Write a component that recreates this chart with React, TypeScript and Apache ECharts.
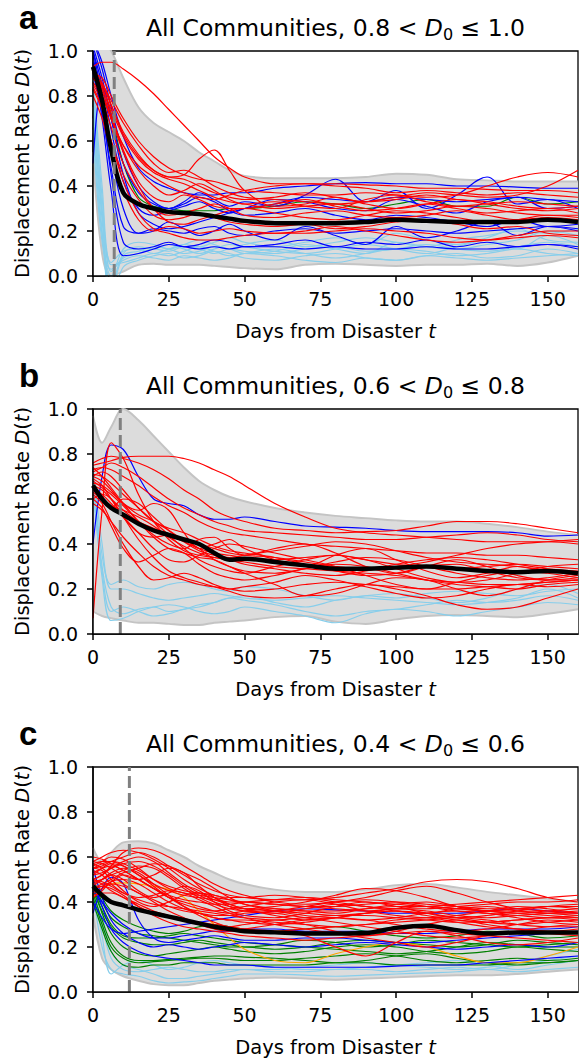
import React, { useEffect, useRef } from "react";
import * as echarts from "echarts";

// sample days shared by every curve
const T = [0, 3, 6, 10, 15, 20, 25, 30, 35, 40, 45, 50, 60, 70, 80, 90, 100, 110, 120, 130, 140, 150, 160];
const xTicks = [0, 25, 50, 75, 100, 125, 150];
const titles = ["0.8 < ", "0.6 < ", "0.4 < "];
const titleEnds = [" ≤ 1.0", " ≤ 0.8", " ≤ 0.6"];
const panelLetters = ["a", "b", "c"];
const dashDays = [7, 9, 12];

// ---------- panel a ----------
const meanA = [0.93,0.78,0.56,0.37,0.32,0.30,0.285,0.28,0.275,0.265,0.255,0.245,0.235,0.235,0.235,0.24,0.25,0.245,0.24,0.24,0.24,0.25,0.24];
const bandUpA = [1.1,1.05,1.0,0.88,0.75,0.68,0.64,0.6,0.55,0.51,0.47,0.445,0.435,0.435,0.435,0.44,0.455,0.45,0.43,0.425,0.42,0.42,0.42];
const bandLoA = [0.55,0.1,0,0.02,0.05,0.055,0.05,0.05,0.05,0.045,0.04,0.035,0.03,0.05,0.055,0.05,0.045,0.05,0.05,0.055,0.045,0.06,0.09];
const redA = [
  [0.93,0.95,0.95,0.92,0.87,0.81,0.74,0.67,0.6,0.53,0.48,0.44,0.41,0.41,0.41,0.405,0.40,0.39,0.39,0.385,0.38,0.38,0.37],
  [0.92,0.86,0.76,0.63,0.53,0.47,0.44,0.45,0.52,0.56,0.47,0.38,0.31,0.32,0.35,0.32,0.3,0.32,0.34,0.32,0.3,0.29,0.3],
  [0.9,0.88,0.8,0.7,0.6,0.53,0.48,0.45,0.43,0.42,0.4,0.38,0.37,0.36,0.36,0.37,0.36,0.35,0.36,0.4,0.44,0.46,0.44],
  [0.88,0.85,0.78,0.68,0.58,0.5,0.46,0.47,0.44,0.4,0.37,0.35,0.34,0.33,0.32,0.33,0.35,0.37,0.36,0.35,0.36,0.4,0.47],
  [0.86,0.8,0.7,0.58,0.47,0.4,0.36,0.38,0.41,0.38,0.34,0.32,0.33,0.31,0.3,0.34,0.36,0.33,0.31,0.32,0.33,0.32,0.31],
  [0.9,0.84,0.72,0.56,0.42,0.35,0.33,0.36,0.34,0.31,0.3,0.3,0.32,0.34,0.31,0.29,0.3,0.32,0.3,0.28,0.29,0.3,0.28],
  [0.85,0.78,0.66,0.5,0.38,0.3,0.27,0.28,0.3,0.32,0.3,0.27,0.26,0.28,0.29,0.27,0.26,0.27,0.29,0.27,0.25,0.26,0.25],
  [0.88,0.82,0.7,0.55,0.4,0.3,0.24,0.23,0.25,0.27,0.29,0.3,0.28,0.26,0.25,0.27,0.29,0.28,0.26,0.24,0.25,0.27,0.26],
  [0.84,0.75,0.6,0.42,0.28,0.21,0.19,0.17,0.16,0.16,0.17,0.18,0.19,0.19,0.2,0.21,0.2,0.19,0.17,0.16,0.17,0.18,0.17],
  [0.8,0.7,0.55,0.38,0.25,0.2,0.22,0.21,0.19,0.2,0.21,0.2,0.19,0.2,0.22,0.2,0.18,0.16,0.15,0.16,0.18,0.2,0.2],
  [0.86,0.8,0.7,0.58,0.49,0.44,0.4,0.37,0.35,0.34,0.36,0.38,0.4,0.41,0.4,0.39,0.37,0.38,0.37,0.36,0.37,0.36,0.35],
  [0.88,0.83,0.74,0.62,0.52,0.46,0.43,0.41,0.38,0.35,0.33,0.32,0.3,0.31,0.32,0.3,0.28,0.29,0.31,0.3,0.28,0.27,0.27],
  [0.9,0.85,0.76,0.64,0.54,0.47,0.44,0.43,0.4,0.37,0.35,0.34,0.35,0.37,0.35,0.33,0.34,0.36,0.34,0.33,0.31,0.3,0.31],
  [0.83,0.74,0.6,0.45,0.34,0.27,0.25,0.26,0.28,0.26,0.24,0.23,0.22,0.23,0.21,0.22,0.24,0.25,0.23,0.21,0.22,0.19,0.18],
];
const blueA = [
  [1.05,0.95,0.8,0.62,0.48,0.42,0.39,0.37,0.36,0.36,0.37,0.37,0.39,0.4,0.41,0.415,0.41,0.41,0.4,0.4,0.395,0.39,0.39],
  [1.05,0.92,0.75,0.55,0.4,0.33,0.3,0.33,0.37,0.34,0.31,0.33,0.31,0.36,0.43,0.33,0.38,0.3,0.36,0.44,0.32,0.34,0.3],
  [1.0,0.85,0.65,0.42,0.3,0.27,0.29,0.31,0.33,0.3,0.28,0.3,0.34,0.33,0.3,0.29,0.34,0.31,0.28,0.33,0.35,0.3,0.31],
  [1.0,0.8,0.55,0.3,0.19,0.2,0.24,0.21,0.18,0.2,0.23,0.2,0.16,0.22,0.18,0.14,0.22,0.17,0.2,0.24,0.18,0.22,0.2],
  [0.98,0.75,0.45,0.15,0.12,0.13,0.15,0.13,0.14,0.16,0.15,0.13,0.14,0.16,0.13,0.15,0.14,0.16,0.13,0.15,0.13,0.14,0.13],
  [0.95,0.7,0.38,0.09,0.1,0.12,0.14,0.13,0.12,0.13,0.12,0.13,0.13,0.12,0.13,0.12,0.12,0.13,0.12,0.12,0.13,0.14,0.12],
  [1.02,0.88,0.7,0.5,0.37,0.32,0.3,0.32,0.35,0.33,0.29,0.27,0.28,0.3,0.27,0.25,0.27,0.26,0.24,0.22,0.25,0.22,0.23],
  [0.9,0.72,0.48,0.22,0.19,0.21,0.2,0.19,0.21,0.22,0.19,0.18,0.2,0.21,0.19,0.2,0.21,0.2,0.19,0.2,0.21,0.22,0.21],
  [0.5,0.85,0.7,0.45,0.28,0.23,0.21,0.22,0.24,0.26,0.28,0.3,0.32,0.35,0.34,0.33,0.35,0.34,0.33,0.34,0.35,0.34,0.33],
];
const skyA = [
  [0.85,0.35,0.02,0.08,0.1,0.12,0.11,0.13,0.12,0.1,0.12,0.11,0.1,0.12,0.13,0.11,0.12,0.14,0.12,0.11,0.13,0.15,0.13],
  [0.8,0.25,-0.05,0.1,0.13,0.12,0.14,0.12,0.1,0.12,0.14,0.13,0.11,0.1,0.12,0.14,0.12,0.1,0.13,0.16,0.12,0.18,0.14],
  [0.9,0.4,0.05,0.06,0.08,0.1,0.09,0.11,0.13,0.11,0.09,0.1,0.12,0.1,0.08,0.1,0.12,0.11,0.09,0.1,0.12,0.1,0.09],
  [0.75,0.2,-0.1,0.04,0.07,0.09,0.1,0.08,0.09,0.11,0.1,0.08,0.07,0.09,0.1,0.08,0.07,0.09,0.1,0.08,0.09,0.12,0.1],
  [0.7,0.18,0.0,0.12,0.15,0.14,0.12,0.14,0.16,0.14,0.12,0.14,0.16,0.13,0.15,0.17,0.15,0.13,0.16,0.18,0.2,0.19,0.21],
  [0.88,0.3,-0.08,0.09,0.11,0.13,0.12,0.1,0.11,0.13,0.12,0.1,0.11,0.14,0.12,0.1,0.15,0.13,0.12,0.14,0.16,0.2,0.18],
  [0.65,0.15,0.03,0.07,0.09,0.08,0.07,0.09,0.08,0.07,0.08,0.1,0.09,0.07,0.06,0.08,0.07,0.09,0.08,0.07,0.08,0.09,0.1],
  [0.82,0.28,0.06,0.11,0.12,0.1,0.12,0.14,0.13,0.15,0.17,0.15,0.13,0.15,0.17,0.14,0.19,0.16,0.14,0.17,0.21,0.16,0.15],
];
const greenA = [
  [0.92,0.85,0.72,0.5,0.35,0.31,0.3,0.29,0.29,0.29,0.3,0.3,0.31,0.33,0.32,0.3,0.32,0.34,0.31,0.31,0.35,0.32,0.33],
];

// ---------- panel b ----------
const meanB = [0.66,0.6,0.56,0.53,0.49,0.46,0.44,0.42,0.4,0.36,0.33,0.335,0.32,0.305,0.29,0.29,0.295,0.3,0.29,0.28,0.275,0.28,0.27];
const bandUpB = [0.97,0.85,0.92,1.0,0.95,0.88,0.81,0.74,0.68,0.64,0.61,0.59,0.56,0.54,0.525,0.515,0.505,0.5,0.5,0.49,0.475,0.455,0.44];
const bandLoB = [0.1,0.08,0.07,0.06,0.05,0.05,0.045,0.04,0.04,0.05,0.055,0.06,0.075,0.08,0.055,0.045,0.065,0.08,0.085,0.08,0.075,0.09,0.11];
const redB = [
  [0.75,0.76,0.77,0.785,0.79,0.79,0.79,0.78,0.76,0.73,0.7,0.66,0.58,0.52,0.47,0.45,0.44,0.43,0.42,0.41,0.41,0.41,0.4],
  [0.07,0.55,0.85,0.78,0.62,0.5,0.42,0.37,0.35,0.34,0.33,0.32,0.3,0.29,0.28,0.27,0.26,0.24,0.23,0.22,0.22,0.23,0.24],
  [0.76,0.78,0.79,0.78,0.76,0.73,0.69,0.64,0.6,0.55,0.52,0.5,0.47,0.46,0.45,0.455,0.46,0.48,0.5,0.5,0.49,0.47,0.45],
  [0.72,0.74,0.76,0.74,0.7,0.65,0.6,0.56,0.53,0.5,0.48,0.46,0.45,0.44,0.43,0.42,0.42,0.43,0.44,0.45,0.44,0.42,0.41],
  [0.7,0.68,0.64,0.58,0.55,0.58,0.55,0.45,0.38,0.4,0.42,0.38,0.33,0.3,0.35,0.38,0.33,0.28,0.25,0.27,0.3,0.28,0.26],
  [0.68,0.65,0.62,0.57,0.5,0.44,0.4,0.38,0.42,0.43,0.38,0.35,0.38,0.4,0.36,0.3,0.27,0.3,0.33,0.3,0.26,0.24,0.25],
  [0.65,0.62,0.58,0.52,0.45,0.38,0.33,0.32,0.35,0.38,0.4,0.39,0.36,0.33,0.3,0.26,0.22,0.2,0.23,0.26,0.28,0.27,0.25],
  [0.74,0.7,0.65,0.58,0.5,0.43,0.38,0.36,0.34,0.33,0.3,0.27,0.22,0.17,0.18,0.22,0.25,0.24,0.2,0.17,0.2,0.24,0.26],
  [0.6,0.62,0.6,0.52,0.42,0.34,0.28,0.25,0.23,0.21,0.19,0.17,0.16,0.17,0.2,0.22,0.2,0.17,0.13,0.11,0.12,0.16,0.2],
  [0.62,0.58,0.5,0.4,0.3,0.24,0.25,0.27,0.25,0.22,0.2,0.21,0.23,0.26,0.24,0.21,0.18,0.16,0.17,0.2,0.22,0.21,0.22],
  [0.73,0.74,0.73,0.7,0.66,0.61,0.57,0.54,0.5,0.47,0.45,0.44,0.42,0.4,0.39,0.38,0.37,0.36,0.36,0.35,0.35,0.34,0.33],
  [0.66,0.64,0.6,0.55,0.5,0.47,0.44,0.41,0.38,0.36,0.35,0.34,0.33,0.34,0.35,0.33,0.31,0.3,0.29,0.3,0.31,0.3,0.29],
  [0.7,0.72,0.7,0.64,0.56,0.5,0.47,0.45,0.42,0.39,0.37,0.36,0.34,0.31,0.28,0.26,0.27,0.3,0.31,0.28,0.25,0.24,0.24],
  [0.64,0.6,0.56,0.6,0.58,0.52,0.46,0.41,0.37,0.35,0.34,0.35,0.37,0.39,0.41,0.4,0.37,0.34,0.32,0.31,0.3,0.28,0.27],
  [0.69,0.66,0.6,0.52,0.45,0.43,0.44,0.42,0.38,0.33,0.3,0.28,0.27,0.29,0.32,0.34,0.33,0.3,0.27,0.25,0.24,0.25,0.27],
  [0.58,0.55,0.5,0.43,0.36,0.3,0.26,0.24,0.22,0.21,0.2,0.19,0.2,0.22,0.23,0.22,0.21,0.2,0.2,0.21,0.22,0.23,0.24],
  [0.71,0.7,0.67,0.62,0.56,0.5,0.44,0.38,0.33,0.3,0.28,0.27,0.3,0.33,0.35,0.33,0.29,0.25,0.23,0.24,0.27,0.3,0.31],
  [0.63,0.6,0.57,0.55,0.52,0.48,0.43,0.39,0.36,0.34,0.33,0.31,0.29,0.27,0.26,0.28,0.31,0.33,0.34,0.33,0.31,0.29,0.28],
  [0.67,0.66,0.63,0.58,0.53,0.5,0.46,0.42,0.4,0.38,0.36,0.35,0.34,0.32,0.3,0.29,0.3,0.32,0.35,0.38,0.4,0.41,0.42],
  [0.6,0.56,0.48,0.38,0.32,0.35,0.38,0.36,0.31,0.27,0.25,0.24,0.26,0.29,0.31,0.3,0.27,0.24,0.22,0.21,0.2,0.22,0.23],
];
const blueB = [
  [0.4,0.7,0.84,0.82,0.7,0.6,0.58,0.57,0.53,0.51,0.51,0.52,0.5,0.48,0.475,0.47,0.46,0.455,0.455,0.455,0.45,0.435,0.44],
];
const skyB = [
  [0.72,0.35,0.22,0.24,0.21,0.2,0.22,0.23,0.22,0.2,0.19,0.21,0.2,0.17,0.15,0.17,0.16,0.18,0.19,0.18,0.17,0.19,0.2],
  [0.7,0.3,0.12,0.09,0.11,0.12,0.1,0.11,0.13,0.14,0.16,0.17,0.14,0.12,0.15,0.17,0.18,0.16,0.14,0.16,0.2,0.22,0.18],
  [0.68,0.25,0.06,0.07,0.1,0.12,0.13,0.12,0.1,0.09,0.1,0.12,0.1,0.08,0.05,0.09,0.11,0.1,0.08,0.1,0.12,0.14,0.13],
  [0.65,0.28,0.1,0.12,0.1,0.08,0.09,0.11,0.12,0.14,0.16,0.15,0.13,0.1,0.08,0.1,0.11,0.13,0.15,0.14,0.15,0.17,0.15],
  [0.75,0.4,0.2,0.2,0.18,0.16,0.15,0.16,0.17,0.18,0.17,0.16,0.15,0.16,0.17,0.16,0.15,0.14,0.13,0.14,0.16,0.2,0.16],
];

// ---------- panel c ----------
const meanC = [0.47,0.43,0.4,0.385,0.365,0.35,0.335,0.32,0.305,0.29,0.28,0.27,0.265,0.26,0.26,0.262,0.285,0.295,0.275,0.26,0.265,0.265,0.265];
const bandUpC = [0.64,0.58,0.62,0.665,0.67,0.66,0.63,0.6,0.56,0.53,0.5,0.48,0.455,0.445,0.445,0.455,0.475,0.48,0.465,0.445,0.43,0.415,0.4];
const bandLoC = [0.35,0.15,0.1,0.07,0.05,0.035,0.03,0.03,0.04,0.05,0.055,0.06,0.065,0.06,0.055,0.06,0.065,0.07,0.075,0.075,0.08,0.09,0.1];
const redC = [
  [0.55,0.56,0.58,0.6,0.62,0.6,0.56,0.52,0.48,0.45,0.43,0.42,0.41,0.41,0.42,0.44,0.46,0.49,0.5,0.49,0.46,0.42,0.4],
  [0.5,0.52,0.56,0.62,0.64,0.63,0.6,0.56,0.52,0.48,0.45,0.43,0.4,0.39,0.4,0.42,0.45,0.47,0.44,0.4,0.37,0.36,0.35],
  [0.58,0.57,0.55,0.52,0.5,0.52,0.55,0.53,0.47,0.42,0.38,0.36,0.35,0.37,0.39,0.38,0.36,0.35,0.37,0.38,0.36,0.35,0.34],
  [0.56,0.58,0.6,0.59,0.55,0.5,0.46,0.44,0.43,0.42,0.41,0.4,0.39,0.38,0.37,0.36,0.37,0.38,0.37,0.36,0.35,0.34,0.33],
  [0.52,0.55,0.57,0.56,0.52,0.47,0.42,0.39,0.37,0.36,0.37,0.38,0.4,0.41,0.39,0.36,0.34,0.33,0.34,0.36,0.38,0.37,0.35],
  [0.48,0.5,0.52,0.5,0.45,0.42,0.44,0.47,0.45,0.4,0.36,0.34,0.33,0.35,0.38,0.4,0.38,0.35,0.33,0.34,0.36,0.38,0.39],
  [0.55,0.54,0.5,0.45,0.4,0.38,0.4,0.43,0.44,0.42,0.39,0.37,0.34,0.32,0.33,0.35,0.37,0.36,0.34,0.33,0.34,0.35,0.36],
  [0.5,0.52,0.55,0.58,0.6,0.58,0.53,0.48,0.44,0.41,0.39,0.37,0.36,0.35,0.34,0.35,0.36,0.34,0.32,0.31,0.32,0.33,0.32],
  [0.46,0.48,0.5,0.53,0.55,0.57,0.56,0.53,0.5,0.46,0.42,0.39,0.36,0.34,0.33,0.32,0.33,0.35,0.36,0.35,0.33,0.31,0.3],
  [0.57,0.55,0.52,0.48,0.44,0.41,0.38,0.36,0.35,0.34,0.34,0.35,0.36,0.38,0.4,0.41,0.4,0.38,0.36,0.35,0.34,0.33,0.33],
  [0.44,0.46,0.48,0.47,0.44,0.4,0.36,0.33,0.3,0.28,0.27,0.28,0.3,0.32,0.33,0.32,0.3,0.28,0.27,0.28,0.3,0.32,0.31],
  [0.53,0.55,0.56,0.54,0.5,0.46,0.42,0.4,0.38,0.36,0.35,0.36,0.37,0.36,0.35,0.37,0.39,0.4,0.38,0.36,0.35,0.36,0.37],
  [0.5,0.49,0.47,0.44,0.42,0.43,0.45,0.44,0.41,0.38,0.35,0.33,0.3,0.28,0.26,0.24,0.22,0.2,0.22,0.25,0.27,0.26,0.25],
  [0.58,0.6,0.62,0.63,0.62,0.59,0.55,0.5,0.46,0.43,0.42,0.42,0.43,0.42,0.4,0.38,0.37,0.37,0.38,0.39,0.4,0.4,0.41],
  [0.47,0.5,0.53,0.55,0.53,0.48,0.43,0.38,0.34,0.31,0.29,0.3,0.32,0.3,0.27,0.25,0.27,0.3,0.32,0.3,0.28,0.27,0.28],
  [0.52,0.53,0.55,0.57,0.58,0.56,0.52,0.47,0.43,0.4,0.38,0.37,0.38,0.4,0.43,0.46,0.45,0.42,0.38,0.36,0.37,0.38,0.37],
  [0.45,0.47,0.46,0.43,0.38,0.34,0.31,0.29,0.28,0.27,0.26,0.25,0.24,0.23,0.24,0.25,0.26,0.27,0.26,0.25,0.24,0.23,0.22],
  [0.55,0.57,0.58,0.57,0.54,0.5,0.47,0.45,0.44,0.43,0.41,0.39,0.37,0.36,0.36,0.37,0.38,0.38,0.37,0.36,0.36,0.35,0.35],
  [0.42,0.45,0.49,0.5,0.48,0.44,0.4,0.37,0.35,0.33,0.32,0.32,0.31,0.3,0.29,0.3,0.31,0.32,0.33,0.32,0.3,0.29,0.29],
  [0.49,0.5,0.52,0.54,0.56,0.55,0.51,0.46,0.42,0.39,0.37,0.36,0.35,0.33,0.31,0.29,0.27,0.25,0.24,0.25,0.27,0.29,0.3],
  [0.54,0.52,0.48,0.44,0.41,0.39,0.38,0.37,0.36,0.35,0.34,0.33,0.32,0.33,0.34,0.34,0.33,0.32,0.31,0.31,0.32,0.33,0.34],
  [0.43,0.44,0.44,0.42,0.39,0.36,0.34,0.32,0.3,0.29,0.28,0.27,0.27,0.28,0.29,0.3,0.32,0.33,0.31,0.29,0.28,0.27,0.26],
  [0.57,0.58,0.58,0.56,0.52,0.48,0.45,0.43,0.42,0.41,0.4,0.4,0.39,0.38,0.38,0.39,0.4,0.39,0.38,0.37,0.37,0.38,0.38],
  [0.5,0.48,0.45,0.42,0.38,0.35,0.33,0.32,0.31,0.3,0.29,0.28,0.27,0.25,0.2,0.16,0.22,0.27,0.25,0.22,0.21,0.22,0.24],
  [0.6,0.59,0.57,0.54,0.5,0.46,0.43,0.41,0.4,0.39,0.39,0.4,0.41,0.42,0.41,0.4,0.39,0.38,0.39,0.4,0.41,0.42,0.43],
  [0.46,0.47,0.49,0.52,0.5,0.46,0.42,0.38,0.35,0.33,0.32,0.31,0.3,0.31,0.33,0.35,0.36,0.35,0.33,0.31,0.3,0.31,0.32],
];
const blueC = [
  [0.4,0.33,0.28,0.26,0.27,0.28,0.29,0.3,0.31,0.32,0.33,0.34,0.36,0.37,0.365,0.36,0.35,0.35,0.35,0.36,0.37,0.36,0.35],
  [0.35,0.46,0.51,0.48,0.32,0.24,0.22,0.23,0.24,0.25,0.24,0.23,0.23,0.24,0.24,0.23,0.22,0.22,0.23,0.24,0.25,0.26,0.27],
  [0.55,0.42,0.32,0.26,0.22,0.2,0.21,0.2,0.19,0.2,0.21,0.22,0.21,0.2,0.21,0.22,0.21,0.2,0.19,0.2,0.21,0.2,0.22],
  [0.5,0.38,0.28,0.22,0.18,0.16,0.15,0.14,0.13,0.12,0.12,0.12,0.11,0.11,0.11,0.11,0.115,0.12,0.12,0.13,0.14,0.15,0.16],
  [0.45,0.4,0.35,0.3,0.26,0.24,0.24,0.25,0.26,0.27,0.27,0.28,0.28,0.27,0.27,0.27,0.26,0.26,0.27,0.28,0.28,0.28,0.29],
];
const greenC = [
  [0.5,0.42,0.36,0.32,0.29,0.27,0.26,0.27,0.29,0.3,0.29,0.28,0.27,0.28,0.29,0.27,0.25,0.24,0.25,0.27,0.26,0.24,0.25],
  [0.45,0.36,0.29,0.24,0.22,0.21,0.21,0.22,0.23,0.22,0.21,0.2,0.21,0.23,0.22,0.2,0.21,0.23,0.22,0.21,0.2,0.21,0.22],
  [0.48,0.35,0.26,0.2,0.17,0.16,0.17,0.18,0.19,0.2,0.19,0.18,0.17,0.18,0.2,0.21,0.2,0.18,0.17,0.18,0.2,0.19,0.18],
  [0.42,0.3,0.2,0.15,0.13,0.135,0.14,0.145,0.15,0.15,0.145,0.14,0.14,0.15,0.16,0.17,0.16,0.14,0.13,0.14,0.15,0.14,0.15],
  [0.44,0.32,0.22,0.16,0.14,0.14,0.145,0.15,0.155,0.16,0.16,0.155,0.15,0.14,0.13,0.14,0.16,0.17,0.15,0.13,0.12,0.13,0.14],
  [0.4,0.28,0.18,0.12,0.11,0.12,0.12,0.13,0.13,0.13,0.12,0.12,0.12,0.12,0.13,0.13,0.12,0.12,0.12,0.12,0.13,0.13,0.14],
  [0.46,0.38,0.3,0.25,0.24,0.24,0.25,0.26,0.25,0.24,0.23,0.22,0.21,0.2,0.19,0.18,0.17,0.18,0.2,0.22,0.21,0.2,0.2],
  [0.5,0.4,0.33,0.29,0.26,0.25,0.24,0.23,0.22,0.21,0.2,0.2,0.19,0.2,0.22,0.23,0.22,0.21,0.2,0.21,0.23,0.22,0.21],
];
const orangeC = [
  [0.42,0.46,0.48,0.485,0.48,0.47,0.455,0.42,0.36,0.3,0.24,0.19,0.14,0.13,0.17,0.2,0.22,0.2,0.16,0.13,0.13,0.16,0.2],
];
const skyC = [
  [0.5,0.25,0.08,0.12,0.14,0.12,0.1,0.11,0.13,0.14,0.13,0.12,0.11,0.1,0.1,0.11,0.12,0.13,0.14,0.12,0.1,0.12,0.14],
  [0.45,0.2,0.1,0.08,0.07,0.05,0.04,0.045,0.05,0.06,0.07,0.08,0.08,0.075,0.07,0.075,0.08,0.085,0.09,0.1,0.09,0.1,0.11],
  [0.48,0.3,0.15,0.1,0.09,0.1,0.11,0.1,0.09,0.09,0.1,0.1,0.09,0.09,0.1,0.1,0.09,0.1,0.11,0.1,0.12,0.14,0.16],
  [0.52,0.35,0.18,0.12,0.1,0.08,0.06,0.06,0.07,0.08,0.09,0.1,0.1,0.11,0.12,0.13,0.12,0.11,0.1,0.11,0.13,0.16,0.19],
];

const panels = [
  { mean: meanA, up: bandUpA, lo: bandLoA, groups: [[skyA, "#87ceeb"], [greenA, "#008000"], [blueA, "#0000ff"], [redA, "#ff0000"]] },
  { mean: meanB, up: bandUpB, lo: bandLoB, groups: [[skyB, "#87ceeb"], [blueB, "#0000ff"], [redB, "#ff0000"]] },
  { mean: meanC, up: bandUpC, lo: bandLoC, groups: [[skyC, "#87ceeb"], [greenC, "#008000"], [orangeC, "#ffa500"], [blueC, "#0000ff"], [redC, "#ff0000"]] },
];

const FONT = "'DejaVu Sans', sans-serif";
const GRID_LEFT = 93;
const GRID_W = 485;
const GRID_H = 225;
const GRID_TOPS = [51, 409, 767];

function pts(vals: number[]) {
  return T.map((t, i) => [t, vals[i]]);
}

function buildOption() {
  const grid: any[] = [];
  const xAxis: any[] = [];
  const yAxis: any[] = [];
  const series: any[] = [];
  const graphic: any[] = [];

  panels.forEach((p, k) => {
    const top = GRID_TOPS[k];
    grid.push({ left: GRID_LEFT, top, width: GRID_W, height: GRID_H, show: true, borderColor: "#000", borderWidth: 1.3, backgroundColor: "transparent", containLabel: false });
    xAxis.push({
      type: "value", gridIndex: k, min: 0, max: 160, interval: 25, z: 10,
      axisLine: { show: true, lineStyle: { color: "#000", width: 1.5 } },
      axisTick: { show: true, length: 6, inside: false, lineStyle: { color: "#000", width: 1.5 }, customValues: xTicks },
      axisLabel: { customValues: xTicks, fontSize: 19, color: "#000", margin: 13, fontFamily: FONT },
      splitLine: { show: false },
    });
    yAxis.push({
      type: "value", gridIndex: k, min: 0, max: 1, interval: 0.2, z: 10,
      axisLine: { show: true, lineStyle: { color: "#000", width: 1.5 } },
      axisTick: { show: true, length: 6, inside: false, lineStyle: { color: "#000", width: 1.5 } },
      axisLabel: { fontSize: 19, color: "#000", margin: 15, fontFamily: FONT, formatter: (v: number) => v.toFixed(1) },
      splitLine: { show: false },
    });
    // band: grey area down from the upper edge, white area down from the lower edge
    series.push({
      type: "line", xAxisIndex: k, yAxisIndex: k, data: pts(p.up),
      smooth: 0.35, symbol: "none", silent: true, z: 1,
      lineStyle: { color: "#c4c4c4", width: 2 },
      areaStyle: { color: "#dcdcdc", opacity: 1, origin: "start" },
    });
    series.push({
      type: "line", xAxisIndex: k, yAxisIndex: k, data: pts(p.lo),
      smooth: 0.35, symbol: "none", silent: true, z: 1,
      lineStyle: { color: "#c4c4c4", width: 2 },
      areaStyle: { color: "#ffffff", opacity: 1, origin: "start" },
    });
    p.groups.forEach(([lines, color]: any) => {
      (lines as number[][]).forEach((vals) => {
        series.push({
          type: "line", xAxisIndex: k, yAxisIndex: k, data: pts(vals), smooth: 0.35, symbol: "none", silent: true, z: 2,
          lineStyle: { color, width: 1.2 },
        });
      });
    });
    series.push({
      type: "line", xAxisIndex: k, yAxisIndex: k, data: pts(p.mean), smooth: 0.35, symbol: "none", silent: true, z: 4,
      lineStyle: { color: "#000", width: 4.5 },
    });
    series.push({
      type: "line", xAxisIndex: k, yAxisIndex: k, data: [[dashDays[k], 0], [dashDays[k], 1]], symbol: "none", silent: true, z: 5,
      lineStyle: { color: "#808080", width: 3, type: [12, 5] },
    });

    const off = k * 358;
    const cx = GRID_LEFT + GRID_W / 2;
    graphic.push({
      type: "text", x: 19, y: 17 + off,
      style: { text: panelLetters[k], fill: "#000", font: "bold 33px 'Liberation Sans', Arial, sans-serif", align: "left", verticalAlign: "middle" },
    });
    graphic.push({
      type: "text", x: cx, y: 28 + off,
      style: {
        text: "{n|All Communities, " + titles[k] + "}{i|D}{s|0}{n|" + titleEnds[k] + "}",
        fill: "#000", align: "center", verticalAlign: "middle",
        rich: {
          n: { fontSize: 23.5, fontFamily: FONT, lineHeight: 28, fill: "#000" },
          i: { fontSize: 23.5, fontFamily: FONT, fontStyle: "italic", lineHeight: 28, fill: "#000" },
          s: { fontSize: 16, fontFamily: FONT, lineHeight: 14, verticalAlign: "bottom", fill: "#000" },
        },
      },
    });
    graphic.push({
      type: "text", x: cx, y: 331 + off,
      style: {
        text: "{n|Days from Disaster }{i|t}", align: "center", verticalAlign: "middle",
        rich: {
          n: { fontSize: 19.5, fontFamily: FONT, fill: "#000" },
          i: { fontSize: 19.5, fontFamily: FONT, fontStyle: "italic", fill: "#000" },
        },
      },
    });
    graphic.push({
      type: "text", x: 22, y: top + GRID_H / 2, rotation: Math.PI / 2,
      style: {
        text: "{n|Displacement Rate }{i|D}{n|(}{i|t}{n|)}", align: "center", verticalAlign: "middle",
        rich: {
          n: { fontSize: 19.5, fontFamily: FONT, fill: "#000" },
          i: { fontSize: 19.5, fontFamily: FONT, fontStyle: "italic", fill: "#000" },
        },
      },
    });
  });

  return { animation: false, backgroundColor: "#fff", grid, xAxis, yAxis, series, graphic };
}

export default function App() {
  const ref = useRef<HTMLDivElement>(null);
  useEffect(() => {
    document.body.style.margin = "0";
    if (!ref.current) return;
    const chart = echarts.init(ref.current, undefined, { renderer: "svg" });
    chart.setOption(buildOption() as any);
    return () => chart.dispose();
  }, []);
  return <div ref={ref} style={{ width: 579, height: 1064 }} />;
}
